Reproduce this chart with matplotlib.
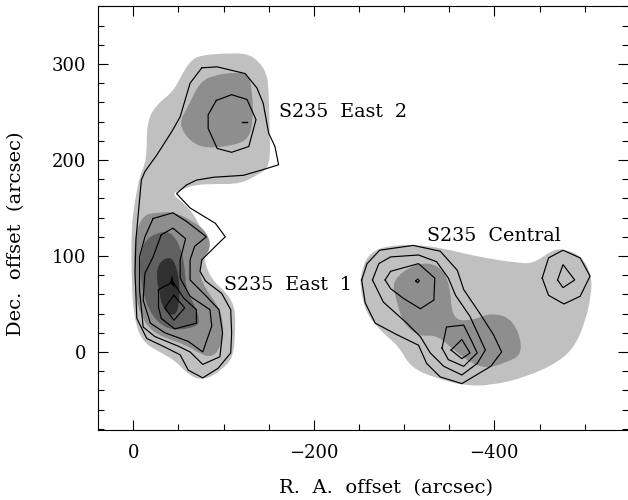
import matplotlib
matplotlib.use("Agg")
import matplotlib.pyplot as plt
from matplotlib.patches import PathPatch
from matplotlib.path import Path
from matplotlib.ticker import MultipleLocator, FixedLocator, FuncFormatter

# --- filled emission regions (R.A. offset, Dec. offset), arcsec
fill_light_east = [(-63,303),(-74,309),(-100,311),(-126,311),(-139,303),(-148,290),(-150,273),(-151,235),(-152,193),(-137,184),(-118,175),(-89,175),(-67,174),(-54,169),(-42,165),(-59,153),(-72,136),(-80,117),(-78,96),(-87,75),(-102,63),(-113,47),(-113,20),(-111,-5),(-98,-19),(-78,-30),(-61,-24),(-48,-10),(-31,-1),(-9,11),(0,40),(2,82),(2,131),(-2,158),(-7,183),(-15,200),(-15,240),(-26,258),(-44,271),(-54,289)]
fill_mid_east2 = [(-74,282),(-93,289),(-111,291),(-128,290),(-132,269),(-133,242),(-128,222),(-111,215),(-81,212),(-63,219),(-50,238),(-61,256)]
fill_mid_east1 = [(-11,143),(-26,145),(-44,146),(-63,138),(-81,126),(-87,108),(-74,94),(-74,77),(-85,59),(-98,42),(-100,18),(-95,2),(-87,-5),(-76,-3),(-59,7),(-37,14),(-18,23),(-5,45),(-1,73),(-1,120)]
fill_dark_east1 = [(-14,117),(-26,124),(-42,126),(-54,106),(-57,87),(-59,63),(-68,49),(-74,33),(-70,26),(-44,22),(-26,31),(-13,52),(-7,84),(-9,106)]
fill_core_east1 = [(-27,93),(-44,101),(-52,73),(-50,40),(-40,38),(-31,49),(-29,65),(-26,73)]
fill_light_central = [(-253,85),(-260,101),(-277,110),(-310,112),(-344,108),(-377,100),(-429,92),(-445,93),(-462,105),(-475,108),(-497,100),(-508,79),(-507,58),(-501,33),(-490,7),(-472,-10),(-436,-26),(-396,-35),(-366,-35),(-338,-28),(-308,-17),(-294,6),(-275,21),(-258,40),(-251,68)]
fill_mid_central = [(-286,75),(-314,93),(-338,91),(-351,72),(-353,33),(-377,33),(-396,41),(-422,34),(-433,-2),(-410,-12),(-392,-17),(-375,-12),(-355,2),(-336,18),(-316,16),(-299,30),(-292,52)]
peak_east1 = [(-43,80),(-46,66),(-41,73)]

smooth_fills = [
    (fill_light_east, "#c0c0c0"), (fill_light_central, "#c0c0c0"),
    (fill_mid_east2, "#8e8e8e"), (fill_mid_east1, "#8e8e8e"), (fill_mid_central, "#8e8e8e"),
    (fill_dark_east1, "#606060"), (fill_core_east1, "#303030"),
]
sharp_fills = [(peak_east1, "#000000")]

# --- contour lines
c_east_outer = [(-76,296),(-93,297),(-124,290),(-137,275),(-144,259),(-150,228),(-157,214),(-161,195),(-144,190),(-122,184),(-89,182),(-70,179),(-59,174),(-48,165),(-63,150),(-91,134),(-102,120),(-91,110),(-76,96),(-74,84),(-80,74),(-98,61),(-108,44),(-109,20),(-108,-1),(-94,-17),(-77,-27),(-61,-19),(-52,-3),(-33,6),(-15,14),(-4,35),(-2,82),(-3,117),(-7,158),(-9,179),(-13,188),(-26,205),(-43,230),(-52,245),(-63,280)]
c_east2_inner = [(-92,262),(-109,268),(-126,263),(-136,242),(-128,214),(-109,208),(-93,212),(-83,233),(-83,247)]
c_east2_peak = [(-120,240),(-126,240)]
c_east1_2 = [(-22,139),(-44,145),(-59,136),(-81,120),(-68,110),(-63,96),(-63,75),(-81,58),(-95,44),(-99,20),(-96,-5),(-77,-13),(-63,0),(-50,6),(-24,16),(-11,26),(-7,65),(-7,99),(-13,120)]
c_east1_3 = [(-31,122),(-44,129),(-58,118),(-52,96),(-52,77),(-63,58),(-85,44),(-87,27),(-77,0),(-61,11),(-35,20),(-19,30),(-11,54),(-13,82),(-22,99)]
c_east1_4 = [(-28,65),(-44,73),(-56,56),(-70,44),(-70,30),(-46,24),(-31,35),(-28,47)]
c_east1_5 = [(-45,59),(-57,46),(-45,33),(-35,46)]
c_cen_1 = [(-253,75),(-259,92),(-273,106),(-310,111),(-340,105),(-359,85),(-366,65),(-384,40),(-399,18),(-408,0),(-396,-15),(-364,-33),(-340,-26),(-325,-12),(-316,7),(-292,18),(-268,30),(-257,51)]
c_cen_2 = [(-265,75),(-272,92),(-285,99),(-316,101),(-336,94),(-349,77),(-357,59),(-373,37),(-390,2),(-381,-12),(-364,-24),(-344,-15),(-329,-1),(-318,16),(-303,30),(-277,52)]
c_cen_3 = [(-279,75),(-285,84),(-316,92),(-334,77),(-333,54),(-318,45),(-299,56),(-285,66)]
c_cen_4 = [(-342,4),(-347,26),(-366,28),(-375,11),(-381,-1),(-366,-15),(-349,-8)]
c_cen_5 = [(-352,2),(-364,13),(-373,-1),(-364,-7)]
c_cen_peak = [(-313,74),(-315,76),(-317,74),(-315,72)]
c_west_1 = [(-453,77),(-460,98),(-476,106),(-495,98),(-506,79),(-495,58),(-477,50),(-460,59)]
c_west_2 = [(-470,75),(-476,91),(-489,75),(-476,67)]

closed_contours = [c_east_outer, c_east2_inner, c_east1_2, c_east1_3, c_east1_4, c_east1_5,
                   c_cen_1, c_cen_2, c_cen_3, c_cen_4, c_cen_5, c_cen_peak, c_west_1, c_west_2]
open_contours = [c_east2_peak]

region_labels = ["S235  East  2", "S235  East  1", "S235  Central"]
region_ra = [-161, -101, -325]
region_dec = [250, 70, 121]

SERIF = "DejaVu Serif"
W, H = 628, 500
fig = plt.figure(figsize=(W/100, H/100), dpi=100)
ax = fig.add_axes([98/W, 1-429.7/H, (628-98)/W, (429.7-6)/H])
ax.set_xlim(39, -548)
ax.set_ylim(-81, 360.4)


def smooth_path(pts):
    """Closed quadratic outline with the traced vertices as control points."""
    n = len(pts)
    mids = [((pts[i][0]+pts[(i+1) % n][0])/2, (pts[i][1]+pts[(i+1) % n][1])/2) for i in range(n)]
    verts = [mids[-1]]
    codes = [Path.MOVETO]
    for i in range(n):
        verts += [pts[i], mids[i]]
        codes += [Path.CURVE3, Path.CURVE3]
    return Path(verts, codes)


for poly, col in smooth_fills:
    ax.add_patch(PathPatch(smooth_path(poly), facecolor=col, edgecolor="none", zorder=2))
for poly, col in sharp_fills:
    ax.fill(*zip(*poly), facecolor=col, edgecolor="none", zorder=2)
for poly in closed_contours:
    xs, ys = zip(*(poly + poly[:1]))
    ax.plot(xs, ys, color="black", lw=0.85, zorder=3, solid_joinstyle="miter")
for poly in open_contours:
    ax.plot(*zip(*poly), color="black", lw=1.0, zorder=3)

for s, x, y in zip(region_labels, region_ra, region_dec):
    ax.text(x, y, s, family=SERIF, fontsize=13.7, ha="left", va="center", zorder=4)

ax.xaxis.set_major_locator(FixedLocator([0, -200, -400]))
ax.xaxis.set_minor_locator(MultipleLocator(50))
ax.yaxis.set_major_locator(MultipleLocator(100))
ax.yaxis.set_minor_locator(MultipleLocator(20))
ax.tick_params(which="major", direction="in", length=7.5, width=0.8, top=True, right=True, labelsize=13, pad=8.5)
ax.tick_params(which="minor", direction="in", length=4, width=0.8, top=True, right=True)
ax.tick_params(axis="x", which="major", pad=10)
for lab in ax.get_xticklabels() + ax.get_yticklabels():
    lab.set_family(SERIF)
ax.xaxis.set_major_formatter(FuncFormatter(lambda v, p: f"{v:.0f}".replace("-", "\u2212")))
ax.spines["right"].set_visible(False)

ax.set_xlabel("R.  A.  offset  (arcsec)", family=SERIF, fontsize=14)
ax.set_ylabel("Dec.  offset  (arcsec)", family=SERIF, fontsize=14)
ax.xaxis.set_label_coords((386-98)/(628-98), -(488-429.7)/423.7, transform=ax.transAxes)
ax.xaxis.label.set_va("center")
ax.yaxis.set_label_coords(-(98-16)/530, (429.7-234)/423.7, transform=ax.transAxes)
ax.yaxis.label.set_va("center")

fig.savefig("out.png", dpi=100)
